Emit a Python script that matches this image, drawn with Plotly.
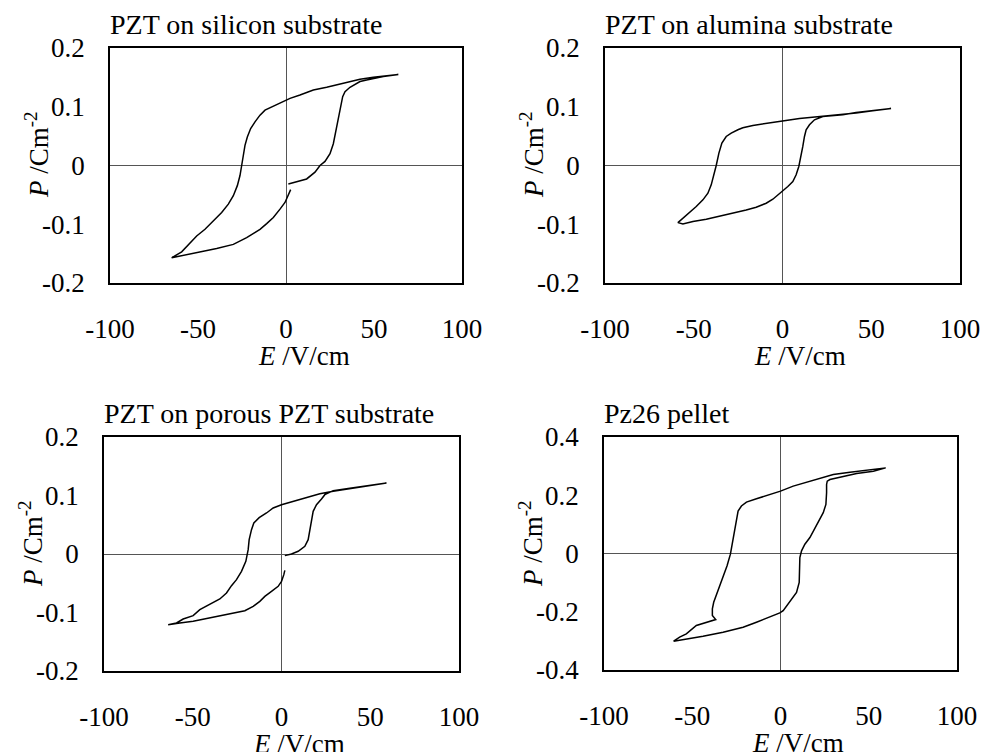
import plotly.graph_objects as go

# Panel 1: PZT on silicon substrate
E_si = [2.65, 1.33, -0.57, -3.41, -7.20, -10.98, -14.77, -22.35, -29.92, -39.39, -48.86, -56.44, -60.23,
        -64.96, -59.28, -55.49, -50.76, -46.02, -41.29, -36.55, -32.77, -29.92, -27.65, -26.14, -25.19,
        -24.24, -23.30, -21.97, -20.08, -17.61, -14.77, -11.93, -7.20, -2.46, 2.27, 7.95, 15.53, 23.11,
        30.68, 38.26, 42.05, 49.62, 57.2, 63.83, 55.3, 45.83, 42.05, 36.36, 33.52, 32.2, 31.06, 29.73,
        28.41, 26.89, 25.0, 22.16, 19.32, 16.48, 11.74, 5.68, 1.33]
P_si = [-0.0411, -0.0514, -0.0629, -0.0743, -0.0886, -0.0989, -0.1086, -0.1229, -0.1343, -0.1411, -0.1469,
        -0.1526, -0.1549, -0.1571, -0.1469, -0.1343, -0.1200, -0.1086, -0.0943, -0.0800, -0.0657, -0.0514,
        -0.0343, -0.0171, 0.0, 0.0171, 0.0343, 0.0486, 0.0629, 0.0743, 0.0857, 0.0943, 0.1011, 0.1086,
        0.1143, 0.1200, 0.1286, 0.1331, 0.1389, 0.1440, 0.1469, 0.1503, 0.1526, 0.1549, 0.1514, 0.1457,
        0.1429, 0.1331, 0.1257, 0.1171, 0.1000, 0.0771, 0.0543, 0.0371, 0.0200, 0.0069, 0.0, -0.0114,
        -0.0229, -0.0274, -0.0314]

# Panel 2: PZT on alumina substrate
E_al = [61.16, 50.84, 41.46, 33.96, 22.7, 18.01, 15.2, 13.32, 12.38, 11.44, 10.51, 9.19, 7.69, 5.82, 3.0,
        0.19, -2.63, -5.44, -9.19, -14.82, -20.45, -27.95, -35.46, -42.96, -50.47, -56.1, -58.91, -56.1,
        -52.35, -48.59, -44.84, -42.03, -40.15, -38.84, -37.34, -35.83, -34.15, -31.71, -28.89, -25.14,
        -22.33, -16.7, -9.19, 0, 9.57, 18.95, 28.33, 41.46, 50.84, 61.16]
P_al = [0.0972, 0.0938, 0.0903, 0.0864, 0.0835, 0.0778, 0.0693, 0.0608, 0.0494, 0.0324, 0.0153, -0.0017,
        -0.0159, -0.0273, -0.0358, -0.0426, -0.0500, -0.0574, -0.0642, -0.0710, -0.0756, -0.0813, -0.0869,
        -0.0915, -0.0955, -0.0994, -0.0972, -0.0898, -0.0813, -0.0699, -0.0585, -0.0472, -0.0330, -0.0188,
        0.0, 0.0210, 0.0381, 0.0494, 0.0551, 0.0608, 0.0642, 0.0682, 0.0710, 0.0756, 0.0801, 0.0824,
        0.0847, 0.0892, 0.0932, 0.0972]

# Panel 3: PZT on porous PZT substrate
E_po = [1.88, 1.31, 0, -1.88, -5.63, -9.39, -12.21, -15.96, -20.66, -27.23, -34.74, -42.25, -49.77, -57.28,
        -63.85, -59.15, -55.4, -49.77, -46.01, -40.38, -34.74, -30.99, -28.17, -25.35, -22.54, -20.09,
        -18.78, -18.22, -16.9, -15.59, -12.58, -8.45, -4.69, 0, 6.57, 14.08, 21.6, 29.11, 38.5, 47.89,
        59.15, 47.89, 38.5, 29.11, 24.41, 22.54, 19.72, 17.84, 16.9, 15.96, 15.02, 13.15, 9.39, 5.63, 1.88]
P_po = [-0.0279, -0.0353, -0.0467, -0.0553, -0.0638, -0.0724, -0.0809, -0.0895, -0.0969, -0.1009, -0.1054,
        -0.1100, -0.1151, -0.1179, -0.1208, -0.1179, -0.1111, -0.1054, -0.0952, -0.0866, -0.0769, -0.0667,
        -0.0541, -0.0439, -0.0296, -0.0125, 0.0074, 0.0245, 0.0416, 0.0530, 0.0621, 0.0701, 0.0786, 0.0843,
        0.0900, 0.0957, 0.1031, 0.1071, 0.1117, 0.1157, 0.1214, 0.1168, 0.1123, 0.1083, 0.1014, 0.0940,
        0.0843, 0.0729, 0.0587, 0.0416, 0.0245, 0.0131, 0.0046, 0.0, -0.0028]

# Panel 4: Pz26 pellet
E_pz = [59.6, 52.6, 43.14, 33.68, 28.0, 26.49, 26.11, 26.11, 25.73, 24.22, 22.33, 19.49, 16.65, 13.81,
        11.92, 10.97, 10.97, 10.6, 9.08, 6.24, 3.41, 1.51, -0.38, -6.05, -13.62, -21.19, -32.54, -43.9,
        -53.36, -60.55, -57.14, -53.36, -47.68, -42.0, -38.22, -36.71, -38.6, -38.6, -37.84, -35.38,
        -32.54, -30.27, -28.38, -26.87, -25.35, -24.03, -22.14, -19.3, -13.62, -6.05, 0, 7.19, 14.76,
        22.33, 29.9, 39.36, 48.82, 59.6]
P_pz = [0.294, 0.2826, 0.2746, 0.2632, 0.2541, 0.2484, 0.237, 0.2085, 0.1687, 0.1402, 0.1174, 0.0832,
        0.0547, 0.0319, 0.0091, -0.0137, -0.0536, -0.0991, -0.1333, -0.1561, -0.1789, -0.196, -0.204,
        -0.2188, -0.2359, -0.253, -0.2701, -0.2838, -0.2929, -0.3009, -0.2872, -0.2758, -0.2473, -0.2359,
        -0.2302, -0.2268, -0.2131, -0.1903, -0.1675, -0.1276, -0.0821, -0.0422, -0.0023, 0.049, 0.106,
        0.1459, 0.163, 0.1766, 0.188, 0.2028, 0.2142, 0.2313, 0.245, 0.2598, 0.2712, 0.2792, 0.286, 0.294]

titles = ["PZT on silicon substrate", "PZT on alumina substrate",
          "PZT on porous PZT substrate", "Pz26 pellet"]
x_ticks = [-100, -50, 0, 50, 100]
y_ticks_small = [-0.2, -0.1, 0, 0.1, 0.2]
y_ticks_large = [-0.4, -0.2, 0, 0.2, 0.4]

W, H = 982, 752
FONT = "Liberation Serif"
FS = 27

# plot boxes in pixels: left, right, top, bottom
boxes = [(110, 462, 48, 283), (605, 960, 48, 283), (104, 459, 437, 671), (604, 957, 437, 670)]
series = [(E_si, P_si, y_ticks_small), (E_al, P_al, y_ticks_small),
          (E_po, P_po, y_ticks_small), (E_pz, P_pz, y_ticks_large)]

fig = go.Figure()
layout = dict(width=W, height=H, margin=dict(l=0, r=0, t=0, b=0, autoexpand=False),
              paper_bgcolor="white", plot_bgcolor="white", showlegend=False,
              font=dict(family=FONT, size=FS, color="black"))

def fmt(v):
    return "%g" % v

annotations = []
for i, ((l, r, t, b), (E, P, yt), title) in enumerate(zip(boxes, series, titles)):
    n = "" if i == 0 else str(i + 1)
    xa, ya = "x" + n, "y" + n
    fig.add_trace(go.Scatter(x=E, y=P, mode="lines", xaxis=xa, yaxis=ya,
                             line=dict(color="black", width=1.5), hoverinfo="skip"))
    common = dict(showgrid=False, zeroline=True, zerolinecolor="#555555", zerolinewidth=1,
                  showline=True, linecolor="black", linewidth=1.5, mirror=True, ticks="",
                  automargin=False,
                  tickfont=dict(family=FONT, size=FS, color="black"))
    layout["xaxis" + n] = dict(common, domain=[l / W, r / W], range=[-100, 100],
                               tickvals=x_ticks, ticktext=[fmt(v) for v in x_ticks],
                               anchor=ya, ticklabelstandoff=21)
    layout["yaxis" + n] = dict(common, domain=[1 - b / H, 1 - t / H], range=[yt[0], yt[-1]],
                               tickvals=yt, ticktext=[fmt(v) for v in yt],
                               anchor=xa, ticklabelstandoff=18)
    annotations.append(dict(text=title, x=(l - 2) / W, y=1 - (t - 23) / H, xref="paper", yref="paper",
                            xanchor="left", yanchor="middle", showarrow=False,
                            font=dict(family=FONT, size=28, color="black")))
    annotations.append(dict(text="<i>E</i> /V/cm", x=(l + (r - l) * 0.55) / W, y=1 - (b + 73) / H,
                            xref="paper", yref="paper", xanchor="center", yanchor="middle",
                            showarrow=False, font=dict(family=FONT, size=FS, color="black")))
    annotations.append(dict(text="<i>P</i> /Cm<sup>-2</sup>", x=(l - 73) / W, y=1 - (t + 107) / H,
                            xref="paper", yref="paper", xanchor="center", yanchor="middle",
                            textangle=-90, showarrow=False,
                            font=dict(family=FONT, size=FS, color="black")))

layout["annotations"] = annotations
fig.update_layout(**layout)
fig.write_html("out.html", config={"displayModeBar": False},
               post_script="document.body.style.margin='0px';document.body.style.overflow='hidden';")
